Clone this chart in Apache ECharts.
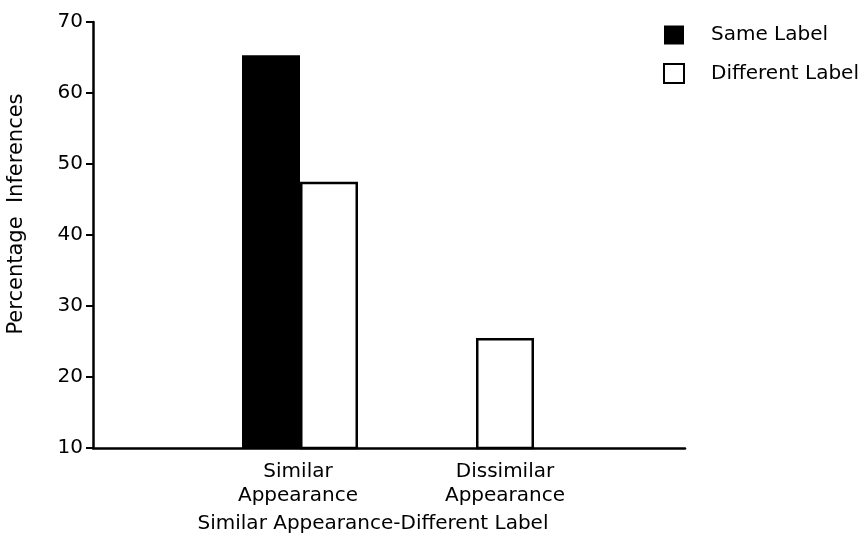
<!DOCTYPE html>
<html>
<head>
<meta charset="utf-8">
<script src="https://cdn.jsdelivr.net/npm/echarts@6/dist/echarts.min.js"></script>
<style>
html,body{margin:0;padding:0;background:#fff;}
#chart{width:865px;height:551px;}
</style>
</head>
<body>
<div id="chart"></div>
<script>
const categories = ['Similar\nAppearance', 'Dissimilar\nAppearance'];
const seriesNames = ['Same Label', 'Different Label'];
const sameLabel = [65.3, '-'];
const differentLabel = [47.5, 25.5];
const yTicks = {min: 10, max: 70, interval: 10};
const yAxisTitle = 'Percentage  Inferences';
const xAxisTitle = 'Similar Appearance-Different Label';

const FONT = 'DejaVu Sans';
const chart = echarts.init(document.getElementById('chart'), null, {renderer: 'canvas'});

chart.setOption({
  animation: false,
  backgroundColor: '#fff',
  textStyle: {fontFamily: FONT, color: '#000'},
  grid: [
    {left: 93, right: 180, top: 22, bottom: 103},
    {left: 212, right: 301, top: 22, bottom: 103}
  ],
  xAxis: [
    {
      gridIndex: 0, type: 'value', min: 0, max: 1, z: 5,
      axisLine: {show: true, lineStyle: {color: '#000', width: 2.5}},
      axisTick: {show: false}, axisLabel: {show: false}, splitLine: {show: false}
    },
    {
      gridIndex: 1, type: 'category', data: categories,
      axisLine: {show: false}, axisTick: {show: false}, splitLine: {show: false},
      axisLabel: {
        margin: 12,
        formatter: function (v, i) {
          const lines = v.split('\n');
          const key = i === 1 ? 'd' : 's';
          return lines.map(l => '{' + key + '|' + l + '}').join('\n');
        },
        rich: {
          s: {fontFamily: FONT, fontSize: 20, color: '#000', lineHeight: 24, padding: [0, 4, 0, 0]},
          d: {fontFamily: FONT, fontSize: 20, color: '#000', lineHeight: 24, padding: [0, 0, 0, 58]}
        }
      }
    }
  ],
  yAxis: [
    {
      gridIndex: 0, type: 'value', min: yTicks.min, max: yTicks.max, interval: yTicks.interval, z: 5,
      axisLine: {show: true, lineStyle: {color: '#000', width: 2.5}},
      axisTick: {show: true, length: 7, lineStyle: {color: '#000', width: 2}},
      axisLabel: {color: '#000', fontFamily: FONT, fontSize: 20, margin: 10},
      splitLine: {show: false}
    },
    {
      gridIndex: 1, type: 'value', min: yTicks.min, max: yTicks.max, interval: yTicks.interval, show: false,
      splitLine: {show: false}
    }
  ],
  legend: {
    orient: 'vertical', left: 658, top: 20,
    itemWidth: 20, itemHeight: 19, itemGap: 18,
    icon: 'rect',
    data: seriesNames,
    textStyle: {fontFamily: FONT, fontSize: 20, color: '#000', padding: [0, 0, 0, 22]}
  },
  series: [
    {
      name: seriesNames[0], type: 'bar', xAxisIndex: 1, yAxisIndex: 1,
      data: sameLabel, barWidth: 58, barGap: '0%',
      itemStyle: {color: '#000', borderColor: '#000', borderWidth: 0}
    },
    {
      name: seriesNames[1], type: 'bar', xAxisIndex: 1, yAxisIndex: 1,
      data: differentLabel, barWidth: 58, barGap: '0%',
      itemStyle: {color: '#fff', borderColor: '#000', borderWidth: 2.5}
    }
  ],
  graphic: [
    {
      type: 'text', x: 17, y: 214, rotation: Math.PI / 2,
      style: {text: yAxisTitle, fontFamily: FONT, fontSize: 21, fill: '#000', align: 'center', verticalAlign: 'middle'}
    },
    {
      type: 'text', x: 373, y: 524,
      style: {text: xAxisTitle, fontFamily: FONT, fontSize: 20, fill: '#000', align: 'center', verticalAlign: 'middle'}
    }
  ]
});
</script>
</body>
</html>
